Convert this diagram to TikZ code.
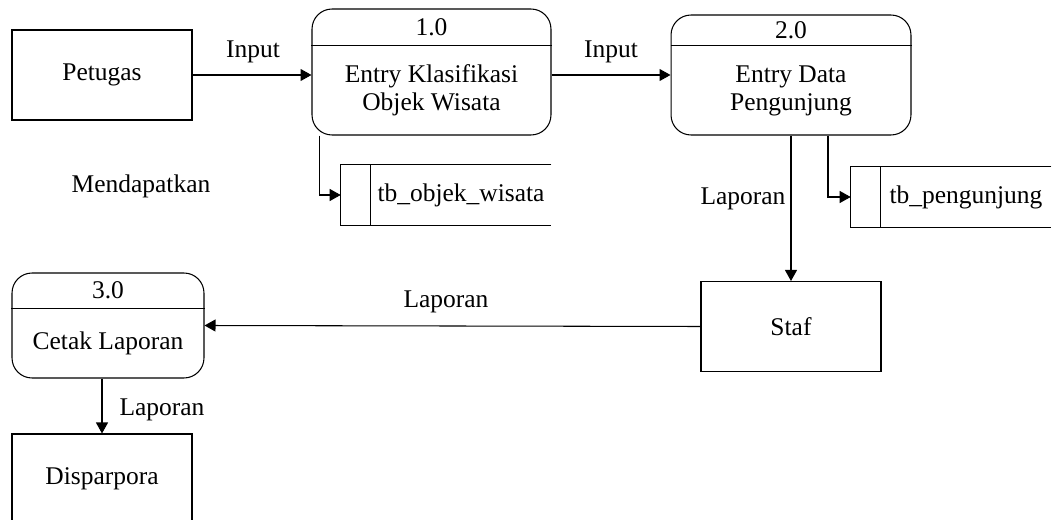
\documentclass[tikz,border=0pt]{standalone}
\usepackage{fontspec}
\setmainfont{Liberation Serif}
\usetikzlibrary{arrows.meta}

\tikzset{
    entitas/.style={draw, line width=0.6pt, minimum width=3.6cm, minimum height=1.8cm},
    proses/.style={draw, line width=0.6pt, rounded corners=0.4cm},
    simpan/.style={minimum height=1.2cm, inner sep=0pt},
    alur/.style={->, line width=0.6pt},
    garis/.style={line width=0.6pt}
}

\begin{document}
\begin{tikzpicture}[x=0.02cm, y=-0.02cm, >={Triangle[length=0.22cm, width=0.24cm]}, font=\fontsize{14.5}{16}\selectfont]
    \useasboundingbox (0,0) rectangle (1052,520);
    \clip (0,0) rectangle (1052,520);

    % 1. Entitas luar
    \node[entitas] (pet) at (102,75) {Petugas};
    \node[entitas] (staf) at (791,326.5) {Staf};
    \node[entitas] (dis) at (102,479) {Disparpora};

    % 2. Proses 1.0, 2.0 dan 3.0
    \node[proses, minimum width=4.78cm, minimum height=2.52cm] (p1) at (431.5,72) {};
    \node[anchor=north, minimum height=0.72cm] (p1id) at (p1.north) {1.0};
    \node[anchor=north, minimum height=1.8cm, align=center] (p1txt) at (p1id.south) {Entry Klasifikasi\\Objek Wisata};
    \draw[garis] (p1id.south -| p1.west) -- (p1id.south -| p1.east);

    \node[proses, minimum width=4.8cm, minimum height=2.4cm] (p2) at (791,75) {};
    \node[anchor=north, minimum height=0.6cm] (p2id) at (p2.north) {2.0};
    \node[anchor=north, minimum height=1.8cm, align=center] (p2txt) at (p2id.south) {Entry Data\\Pengunjung};
    \draw[garis] (p2id.south -| p2.west) -- (p2id.south -| p2.east);

    \node[proses, minimum width=3.84cm, minimum height=2.1cm] (p3) at (108,325.5) {};
    \node[anchor=north, minimum height=0.7cm] (p3id) at (p3.north) {3.0};
    \node[anchor=north, minimum height=1.4cm] (p3txt) at (p3id.south) {Cetak Laporan};
    \draw[garis] (p3id.south -| p3.west) -- (p3id.south -| p3.east);

    % 3. Data store (ujung kanan terbuka)
    \node[simpan, minimum width=4.2cm] (d1) at (446,195) {\hspace{0.6cm}tb\_objek\_wisata};
    \draw[garis] (d1.north east) -- (d1.north west) -- (d1.south west) -- (d1.south east);
    \draw[garis] ([xshift=0.6cm]d1.north west) -- ([xshift=0.6cm]d1.south west);

    \node[simpan, minimum width=4.0cm] (d2) at (951,197) {\hspace{0.6cm}tb\_pengunjung};
    \draw[garis] (d2.north east) -- (d2.north west) -- (d2.south west) -- (d2.south east);
    \draw[garis] ([xshift=0.6cm]d2.north west) -- ([xshift=0.6cm]d2.south west);

    % 4. Aliran data
    \draw[alur] (pet.east) -- (pet.east -| p1.west);
    \draw[alur] (p1.east |- p2.west) -- (p2.west);
    \draw[alur] ([xshift=0.16cm]p1.south west) |- (d1.west);
    \draw[alur] ([xshift=0.74cm]p2.south) |- (d2.west);
    \draw[alur] (p2.south) -- (staf.north);
    \draw[alur] (staf.west) -- (p3.east);
    \draw[alur] (dis.north |- p3.south) -- (dis.north);

    % 5. Label aliran
    \node (in1) at (253,52) {Input};
    \node (in2) at (611,52) {Input};
    \node (lap1) at (743,199) {Laporan};
    \node (lap2) at (446,302) {Laporan};
    \node (lap3) at (162,410) {Laporan};
    \node (dapat) at (141,186) {Mendapatkan};
\end{tikzpicture}
\end{document}
